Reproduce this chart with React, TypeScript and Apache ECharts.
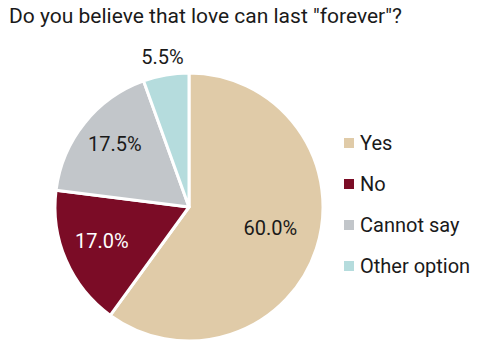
import React, { useEffect, useRef } from "react";
import * as echarts from "echarts";

const titleText = 'Do you believe that love can last "forever"?';
const categories = ["Yes", "No", "Cannot say", "Other option"];
const values = [60.0, 17.0, 17.5, 5.5];
const colors = ["#E0CBA8", "#7B0C26", "#C2C6CA", "#B5DCDD"];
const labelColors = ["#1a1a1a", "#ffffff", "#1a1a1a", "#1a1a1a"];

const FONT = "Roboto, 'Noto Sans', sans-serif";

export default function App() {
  const ref = useRef<HTMLDivElement>(null);
  useEffect(() => {
    if (!ref.current) return;
    const chart = echarts.init(ref.current, undefined, { renderer: "svg" });
    const center = [189, 207];
    const R = 134;
    const fmt = (p: any) => Number(p.value).toFixed(1) + "%";
    // transparent ring used only to place labels of the given slices
    const labelRing = (inner: number, outer: number, shown: number[], dy: number) => ({
      type: "pie",
      center,
      radius: [inner, outer],
      startAngle: 90,
      clockwise: true,
      silent: true,
      labelLine: { show: false },
      labelLayout: () => ({ dy }),
      itemStyle: { color: "transparent", borderWidth: 0 },
      data: categories.map((c, i) => ({
        name: c,
        value: values[i],
        label: {
          show: shown.indexOf(i) >= 0,
          position: "inside",
          formatter: fmt,
          fontFamily: FONT,
          fontSize: 20,
          color: labelColors[i],
        },
      })),
    });
    chart.setOption({
      animation: false,
      title: {
        text: titleText,
        left: 9,
        top: 5,
        padding: 0,
        textStyle: { fontFamily: FONT, fontSize: 21, fontWeight: "normal", color: "#1a1a1a" },
      },
      legend: {
        orient: "vertical",
        left: 342,
        top: 133,
        padding: 0,
        itemWidth: 12,
        itemHeight: 12,
        itemGap: 21,
        icon: "rect",
        data: categories,
        textStyle: { fontFamily: FONT, fontSize: 20, lineHeight: 20, color: "#1a1a1a" },
      },
      series: [
        {
          type: "pie",
          center,
          radius: [0, R],
          startAngle: 90,
          clockwise: true,
          silent: true,
          label: { show: false },
          labelLine: { show: false },
          itemStyle: { borderColor: "#ffffff", borderWidth: 3 },
          data: categories.map((c, i) => ({ name: c, value: values[i], itemStyle: { color: colors[i] } })),
        },
        labelRing(31, R, [0], -5),
        labelRing(50, R, [1, 2], -4),
        labelRing(R + 6, R + 28, [3], 2),
      ],
    });
    return () => chart.dispose();
  }, []);
  return (
    <div
      ref={ref}
      style={{ position: "fixed", left: 0, top: 0, width: 477, height: 340, background: "#ffffff" }}
    />
  );
}
